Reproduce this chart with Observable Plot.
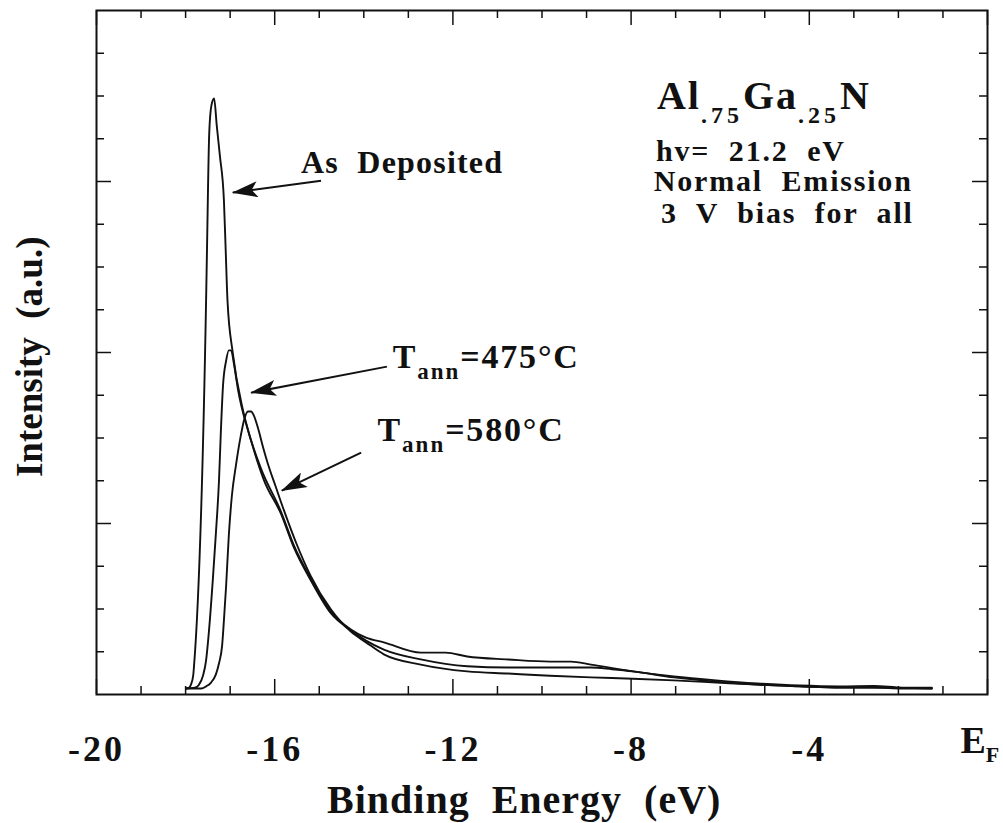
<!DOCTYPE html>
<html>
<head>
<meta charset="utf-8">
<script src="https://cdn.jsdelivr.net/npm/d3@7"></script>
<script src="https://cdn.jsdelivr.net/npm/@observablehq/plot@0.6"></script>
<style>
  html, body { margin: 0; padding: 0; background: #fff; }
  #chart svg { display: block; }
  #chart svg text, #chart svg tspan { white-space: pre; font-family: "Liberation Serif", "Times New Roman", serif; font-weight: bold; }
  g[aria-description="tick-labels"] text { letter-spacing: 3px; }
  g[aria-description="x-title"] text { letter-spacing: 1px; }
  g[aria-description="notes"] text { letter-spacing: 1.8px; }
  g[aria-description="formula"] text { letter-spacing: 2px; }
  g[aria-description="anneal"] text { letter-spacing: 1.8px; }
  g[aria-description="deposited"] text { letter-spacing: 1.2px; }
</style>
</head>
<body>
<div id="chart"></div>
<script>
// UPS spectra of Al.75Ga.25N — binding energy (eV) vs intensity (a.u.)
const asDepositedE = [-17.99, -17.92, -17.88, -17.83, -17.81, -17.54, -17.52, -17.47, -17.42, -17.36, -17.30, -17.23, -17.14, -17.10, -17.06, -16.94, -16.71, -16.53, -16.24, -15.86, -15.57, -15.19, -14.74, -14.29, -13.95, -13.55, -12.72, -11.68, -10.76, -9.82, -8.90, -8.43, -7.96, -7.04, -6.09, -5.17, -4.23, -3.31, -2.55, -1.90, -1.25];
const asDepositedI = [0.14, 0.16, 0.23, 0.44, 0.68, 9.22, 10.39, 13.12, 13.78, 13.94, 13.30, 12.60, 11.56, 10.39, 9.22, 7.98, 6.64, 5.94, 5.01, 4.23, 3.44, 2.67, 1.90, 1.50, 1.26, 1.05, 0.82, 0.66, 0.63, 0.63, 0.63, 0.59, 0.54, 0.40, 0.30, 0.23, 0.19, 0.16, 0.16, 0.14, 0.14];

const anneal475E = [-17.99, -17.79, -17.70, -17.61, -17.54, -17.48, -17.39, -17.32, -17.25, -17.21, -17.16, -17.09, -17.03, -16.98, -16.91, -16.82, -16.60, -16.31, -15.86, -15.57, -15.19, -14.74, -14.29, -13.95, -13.55, -12.72, -12.16, -11.68, -10.76, -9.82, -9.35, -8.90, -7.96, -7.04, -6.09, -5.17, -4.23, -3.31, -2.55, -1.90, -1.25];
const anneal475I = [0.14, 0.16, 0.23, 0.44, 0.80, 1.43, 2.67, 3.77, 5.01, 6.11, 7.23, 7.81, 8.05, 8.05, 7.70, 7.11, 6.18, 5.29, 4.28, 3.49, 2.71, 1.94, 1.52, 1.33, 1.22, 0.98, 0.98, 0.89, 0.82, 0.77, 0.77, 0.70, 0.54, 0.42, 0.33, 0.26, 0.21, 0.19, 0.20, 0.16, 0.16];

const anneal580E = [-17.99, -17.65, -17.54, -17.43, -17.32, -17.25, -17.18, -17.14, -17.09, -17.03, -16.96, -16.87, -16.76, -16.69, -16.60, -16.53, -16.47, -16.38, -16.26, -16.13, -15.99, -15.79, -15.52, -15.19, -14.74, -14.29, -13.95, -13.55, -12.72, -11.68, -10.76, -9.82, -8.90, -7.96, -7.04, -6.09, -5.17, -4.23, -3.31, -2.55, -1.25];
const anneal580I = [0.14, 0.14, 0.19, 0.28, 0.47, 0.73, 1.15, 1.73, 2.55, 3.72, 4.66, 5.36, 6.06, 6.41, 6.62, 6.62, 6.53, 6.25, 5.78, 5.32, 4.90, 4.30, 3.55, 2.77, 1.99, 1.47, 1.22, 0.94, 0.70, 0.54, 0.49, 0.44, 0.40, 0.37, 0.33, 0.28, 0.23, 0.19, 0.16, 0.16, 0.14];

const seriesNames = ["As Deposited", "Tann=475°C", "Tann=580°C"];

// Axis ticks
const xMajorTicks = [-20, -16, -12, -8, -4, 0];
const xTickLabels = ["-20", "-16", "-12", "-8", "-4", ""];
const xMinorTicks = [-19, -18, -17, -15, -14, -13, -11, -10, -9, -7, -6, -5, -3, -2, -1];
const yMajorTicks = [4, 8, 12];
const yMinorTicks = [1, 2, 3, 5, 6, 7, 9, 10, 11, 13, 14, 15];
const fermiTick = [0];

// Annotations (in data units)
const depositedText = ["As  Deposited"];
const depositedE = [-15.41];
const depositedI = [12.21];
const annealText = ["Tann=475°C", "Tann=580°C"];
const annealE = [-13.35, -13.69];
const annealI = [7.63, 5.94];
const arrowFromE = [-14.96, -13.48, -14.06];
const arrowFromI = [12.02, 7.67, 5.66];
const arrowToE = [-16.94, -16.53, -15.84];
const arrowToI = [11.74, 7.06, 4.77];

const formulaText = ["Al.75Ga.25N"];
const formulaE = [-7.42];
const formulaI = [13.70];
const notesText = ["hv=  21.2  eV", "Normal  Emission", "3  V  bias  for  all"];
const notesE = [-7.44, -7.49, -7.33];
const notesI = [12.49, 11.77, 11.04];

const xTitle = ["Binding  Energy  (eV)"];
const xTitleE = [-10.40];
const yTitle = ["Intensity  (a.u.)"];
const yTitleI = [7.9];

// Layout
const W = 1003, H = 823;
const mLeft = 96, mRight = 16, mTop = 10, mBottom = 129;
const innerW = W - mLeft - mRight, innerH = H - mTop - mBottom;
const minorLen = 8, majorLen = 15;

const rows = [
  [seriesNames[0], asDepositedE, asDepositedI],
  [seriesNames[1], anneal475E, anneal475I],
  [seriesNames[2], anneal580E, anneal580I]
].flatMap(([name, E, I]) => E.map((e, i) => ({series: name, E: e, I: I[i]})));

const arrows = arrowFromE.map((e, i) => ({x1: e, y1: arrowFromI[i], x2: arrowToE[i], y2: arrowToI[i]}));
const ink = "#111";

const svg = Plot.plot({
  width: W, height: H,
  marginLeft: mLeft, marginRight: mRight, marginTop: mTop, marginBottom: mBottom,
  style: {fontFamily: "'Liberation Serif', 'Times New Roman', serif", fontWeight: "bold", color: ink, background: "#fff"},
  x: {domain: [-20, 0], axis: null},
  y: {domain: [0, 16], axis: null},
  marks: [
    // inward ticks on all four sides
    Plot.ruleX(xMinorTicks, {x: d => d, insetTop: innerH - minorLen, stroke: ink, strokeWidth: 1.5}),
    Plot.ruleX(xMinorTicks, {x: d => d, insetBottom: innerH - minorLen, stroke: ink, strokeWidth: 1.5}),
    Plot.ruleX(xMajorTicks, {x: d => d, insetTop: innerH - majorLen, stroke: ink, strokeWidth: 1.5}),
    Plot.ruleX(xMajorTicks, {x: d => d, insetBottom: innerH - majorLen, stroke: ink, strokeWidth: 1.5}),
    Plot.ruleY(yMinorTicks, {y: d => d, insetRight: innerW - minorLen, stroke: ink, strokeWidth: 1.5}),
    Plot.ruleY(yMinorTicks, {y: d => d, insetLeft: innerW - minorLen, stroke: ink, strokeWidth: 1.5}),
    Plot.ruleY(yMajorTicks, {y: d => d, insetRight: innerW - majorLen, stroke: ink, strokeWidth: 1.5}),
    Plot.ruleY(yMajorTicks, {y: d => d, insetLeft: innerW - majorLen, stroke: ink, strokeWidth: 1.5}),
    Plot.frame({stroke: ink, strokeWidth: 2}),

    // spectra
    Plot.line(rows, {x: "E", y: "I", z: "series", stroke: ink, strokeWidth: 1.9, curve: "monotone-x"}),

    // tick labels
    Plot.text(xMajorTicks, {x: d => d, text: (d, i) => xTickLabels[i], frameAnchor: "bottom", lineAnchor: "bottom", dy: 66, fontSize: 36, fill: ink, ariaDescription: "tick-labels"}),
    Plot.text(fermiTick, {x: d => d, text: () => "EF", frameAnchor: "bottom", lineAnchor: "bottom", textAnchor: "start", dx: -27, dy: 58, fontSize: 38, fill: ink, ariaDescription: "fermi"}),

    // axis titles
    Plot.text(xTitle, {x: (d, i) => xTitleE[i], text: d => d, frameAnchor: "bottom", lineAnchor: "bottom", textAnchor: "middle", dy: 118, fontSize: 40, fill: ink, ariaDescription: "x-title"}),
    Plot.text(yTitle, {y: (d, i) => yTitleI[i], text: d => d, frameAnchor: "left", lineAnchor: "bottom", textAnchor: "middle", rotate: -90, dx: -55, fontSize: 37, fill: ink, ariaDescription: "y-title"}),

    // annotations
    Plot.link(arrows, {x1: "x1", y1: "y1", x2: "x2", y2: "y2", stroke: ink, strokeWidth: 2, ariaDescription: "arrows"}),
    Plot.text(depositedText, {x: (d, i) => depositedE[i], y: (d, i) => depositedI[i], text: d => d, textAnchor: "start", lineAnchor: "bottom", fontSize: 32, fill: ink, ariaDescription: "deposited"}),
    Plot.text(annealText, {x: (d, i) => annealE[i], y: (d, i) => annealI[i], text: d => d, textAnchor: "start", lineAnchor: "bottom", fontSize: 34, fill: ink, ariaDescription: "anneal"}),
    Plot.text(formulaText, {x: (d, i) => formulaE[i], y: (d, i) => formulaI[i], text: d => d, textAnchor: "start", lineAnchor: "bottom", fontSize: 40, fill: ink, ariaDescription: "formula"}),
    Plot.text(notesText, {x: (d, i) => notesE[i], y: (d, i) => notesI[i], text: d => d, textAnchor: "start", lineAnchor: "bottom", fontSize: 30, fill: ink, ariaDescription: "notes"})
  ]
});

// Subscripts for chemical formula, annealing temperature and Fermi level
const richLabels = new Map([
  ["Al.75Ga.25N", {parts: [["Al", 0], [".75", 1], ["Ga", 0], [".25", 1], ["N", 0]], subSize: 24, subShift: 14, subSpacing: 4}],
  ["Tann=475°C", {parts: [["T", 0], ["ann", 1], ["=475°C", 0]], subSize: 23, subShift: 11, subSpacing: 2}],
  ["Tann=580°C", {parts: [["T", 0], ["ann", 1], ["=580°C", 0]], subSize: 23, subShift: 11, subSpacing: 2}],
  ["EF", {parts: [["E", 0], ["F", 1]], subSize: 22, subShift: 9, subSpacing: 0}]
]);

d3.select(svg).selectAll("text").each(function() {
  const spec = richLabels.get(this.textContent);
  if (!spec) return;
  const t = d3.select(this);
  t.text(null);
  let offset = 0;
  for (const [str, isSub] of spec.parts) {
    const target = isSub ? spec.subShift : 0;
    const ts = t.append("tspan").attr("dy", target - offset).text(str);
    if (isSub) ts.attr("font-size", spec.subSize).style("letter-spacing", spec.subSpacing + "px");
    offset = target;
  }
});

// Filled arrowheads
const defs = d3.select(svg).insert("defs", ":first-child");
defs.append("marker")
  .attr("id", "filled-head")
  .attr("viewBox", "0 0 26 16")
  .attr("refX", 25).attr("refY", 8)
  .attr("markerWidth", 26).attr("markerHeight", 16)
  .attr("markerUnits", "userSpaceOnUse")
  .attr("orient", "auto")
  .append("path")
  .attr("d", "M26,8 L0,0 L6,8 L0,16 Z")
  .attr("fill", ink);
d3.select(svg).selectAll('g[aria-description="arrows"] path').attr("marker-end", "url(#filled-head)");

document.getElementById("chart").appendChild(svg);
</script>
</body>
</html>
